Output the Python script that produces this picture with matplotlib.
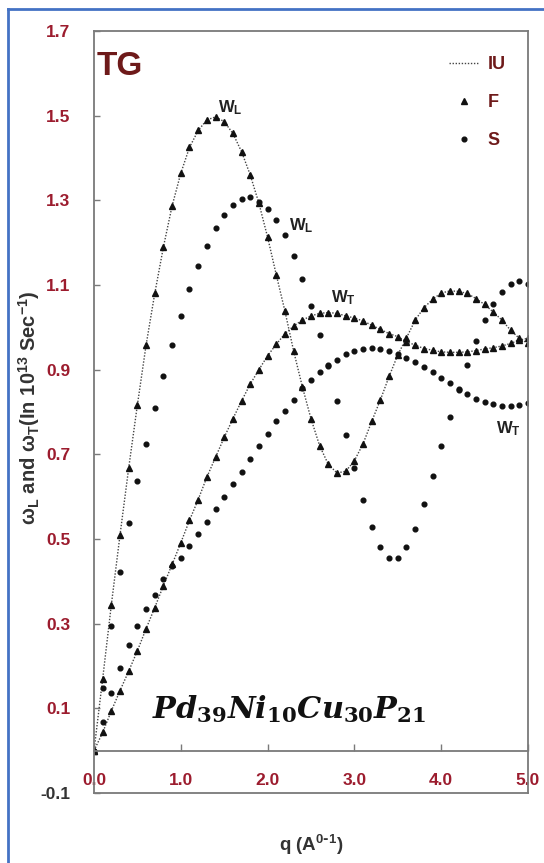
import numpy as np
import matplotlib.pyplot as plt
from matplotlib.lines import Line2D

plt.rcParams['font.family'] = ['Liberation Sans', 'DejaVu Sans']
plt.rcParams['mathtext.fontset'] = 'custom'
plt.rcParams['mathtext.it'] = 'DejaVu Serif:italic:bold'
plt.rcParams['mathtext.rm'] = 'DejaVu Serif:bold'
plt.rcParams['mathtext.bf'] = 'Liberation Sans:bold'

# wave vector q (A^-1)
q = np.round(np.arange(0, 5.01, 0.1), 1)

# longitudinal branch (w_L)
f_long = [0.0, 0.17, 0.345, 0.51, 0.668, 0.817, 0.958, 1.08, 1.19, 1.287,
          1.364, 1.425, 1.465, 1.49, 1.497, 1.486, 1.458, 1.415, 1.36, 1.293,
          1.213, 1.124, 1.038, 0.944, 0.86, 0.784, 0.72, 0.676, 0.656, 0.66,
          0.685, 0.725, 0.778, 0.829, 0.884, 0.935, 0.975, 1.017, 1.046, 1.066,
          1.081, 1.086, 1.085, 1.08, 1.068, 1.054, 1.036, 1.017, 0.993, 0.974,
          0.962]
s_long = [0.0, 0.149, 0.294, 0.423, 0.537, 0.636, 0.724, 0.809, 0.886, 0.958,
          1.026, 1.09, 1.146, 1.193, 1.234, 1.266, 1.289, 1.302, 1.307, 1.295,
          1.28, 1.254, 1.217, 1.168, 1.115, 1.05, 0.982, 0.911, 0.827, 0.746,
          0.668, 0.593, 0.529, 0.481, 0.455, 0.455, 0.48, 0.523, 0.583, 0.648,
          0.719, 0.788, 0.852, 0.912, 0.968, 1.017, 1.054, 1.083, 1.103, 1.109,
          1.103]

# transverse branch (w_T)
f_trans = [0.0, 0.043, 0.094, 0.142, 0.188, 0.236, 0.288, 0.338, 0.39, 0.44,
           0.491, 0.544, 0.593, 0.646, 0.693, 0.74, 0.784, 0.826, 0.866, 0.90,
           0.933, 0.96, 0.985, 1.003, 1.017, 1.027, 1.033, 1.035, 1.033, 1.027,
           1.022, 1.015, 1.005, 0.995, 0.985, 0.978, 0.966, 0.958, 0.95, 0.946,
           0.942, 0.941, 0.941, 0.942, 0.945, 0.949, 0.952, 0.956, 0.962, 0.97,
           0.974]
s_trans = [0.0, 0.068, 0.137, 0.196, 0.25, 0.295, 0.335, 0.368, 0.405, 0.436,
           0.455, 0.484, 0.512, 0.541, 0.57, 0.599, 0.63, 0.658, 0.689, 0.719,
           0.748, 0.778, 0.803, 0.829, 0.856, 0.876, 0.895, 0.909, 0.924, 0.936,
           0.944, 0.95, 0.952, 0.95, 0.944, 0.938, 0.927, 0.919, 0.907, 0.895,
           0.881, 0.868, 0.855, 0.842, 0.831, 0.823, 0.818, 0.815, 0.815, 0.817,
           0.821]

# IU curves run through the F points in the figure
iu_long = f_long
iu_trans = f_trans

yticks = [-0.1, 0.1, 0.3, 0.5, 0.7, 0.9, 1.1, 1.3, 1.5, 1.7]
xticks = [0.0, 1.0, 2.0, 3.0, 4.0, 5.0]

red = '#9C1C2E'
maroon = '#6E1A1A'
frame = '#7a7a7a'

fig = plt.figure(figsize=(5.44, 8.63), dpi=100)
ax = fig.add_axes([94/544, 1-793/863, 434/544, 762/863])

dot_ls = (0, (1, 1.2))
ax.plot(q, iu_long, color='#444444', lw=1.0, ls=dot_ls, label='IU')
ax.plot(q, iu_trans, color='#444444', lw=1.0, ls=dot_ls)
ax.plot(q, f_long, ls='none', marker='^', ms=4.3, color='#111111', label='F')
ax.plot(q, f_trans, ls='none', marker='^', ms=4.3, color='#111111')
ax.plot(q, s_long, ls='none', marker='o', ms=3.4, color='#111111', label='S')
ax.plot(q, s_trans, ls='none', marker='o', ms=3.4, color='#111111')

ax.set_xlim(0, 5)
ax.set_ylim(-0.1, 1.7)

for side in ['left', 'right', 'top', 'bottom']:
    ax.spines[side].set_color(frame)
    ax.spines[side].set_linewidth(1.3)
ax.spines['bottom'].set_position(('data', 0))
ax.axhline(-0.1, color=frame, lw=1.3, clip_on=False)

ax.set_xticks(xticks)
ax.set_xticklabels([f'{v:.1f}' for v in xticks])
ax.set_yticks(yticks)
ax.set_yticklabels([f'{v:.1f}' for v in yticks])
ax.tick_params(axis='x', direction='in', length=5, width=1, color=frame,
               pad=16, labelsize=12.5, labelcolor=red)
ax.tick_params(axis='y', direction='in', length=4, width=1, color=frame,
               pad=17, labelsize=12.5, labelcolor=red)
for lab in ax.get_xticklabels() + ax.get_yticklabels():
    lab.set_fontweight('bold')
ax.get_yticklabels()[0].set_color('#333333')

ax.set_ylabel(r'ω$_\mathbf{L}$ and ω$_\mathbf{T}$(In 10$^\mathbf{13}$ Sec$^\mathbf{-1}$)',
              fontsize=14.5, fontweight='bold', color='#333333')
ax.yaxis.set_label_coords(-0.12, 0.505)
fig.text(311/544, 1-845/863, r'q (A$^\mathbf{0\text{-}1}$)', ha='center', va='center',
         fontsize=13.5, fontweight='bold', color='#333333')

ax.text(0.035, 1.597, 'TG', fontsize=24, fontweight='bold', color=maroon,
        ha='left', va='baseline')
ax.text(0.67, 0.076, r'$Pd_{39}Ni_{10}Cu_{30}P_{21}$', fontsize=21.9,
        color='#111111', ha='left', va='baseline')

wl = r'W$_\mathbf{L}$'
wt = r'W$_\mathbf{T}$'
for x, y, s in [(1.43, 1.52, wl), (2.25, 1.24, wl), (2.73, 1.07, wt), (4.63, 0.76, wt)]:
    ax.text(x, y, s, fontsize=12, fontweight='bold', color='#222222',
            ha='left', va='center')

leg = ax.legend(loc='upper right', bbox_to_anchor=(0.977, 0.984), frameon=False,
                handlelength=1.7, handletextpad=0.45, labelspacing=1.17,
                numpoints=1, borderpad=0.2, fontsize=13)
for t in leg.get_texts():
    t.set_color(maroon)
    t.set_fontweight('bold')

blue = '#4472C4'
fig.add_artist(Line2D([8/544, 8/544], [0, 1-9/863], color=blue, lw=2))
fig.add_artist(Line2D([8/544, 1], [1-9/863, 1-9/863], color=blue, lw=2))

fig.savefig('out.png', dpi=100)
